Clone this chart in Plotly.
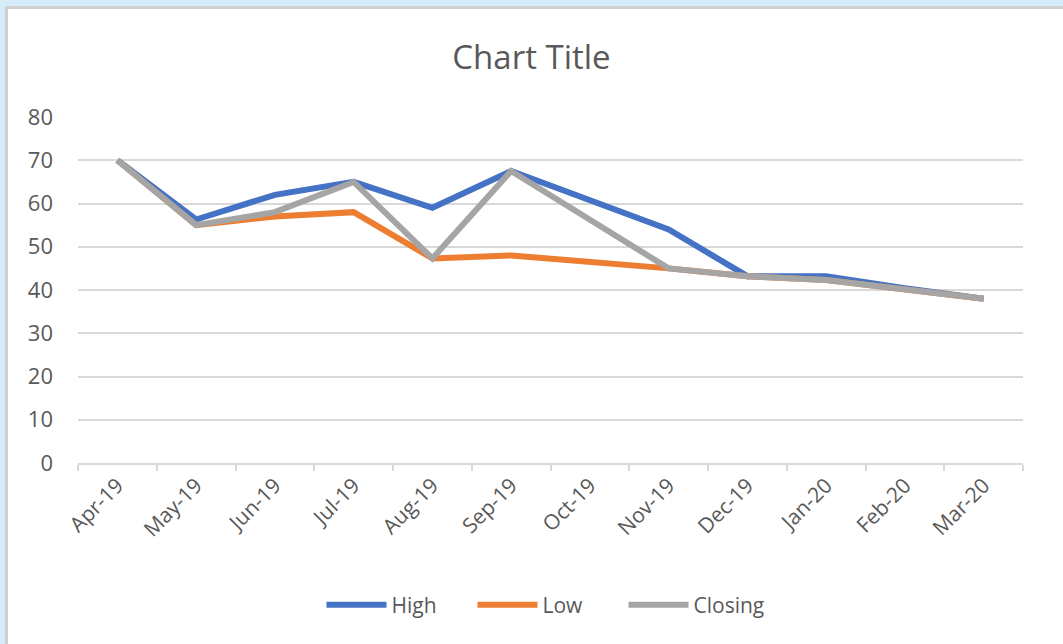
import plotly.graph_objects as go

months = ["Apr-19", "May-19", "Jun-19", "Jul-19", "Aug-19", "Sep-19",
          "Oct-19", "Nov-19", "Dec-19", "Jan-20", "Feb-20", "Mar-20"]
high = [70, 56.3, 62, 65, 59, 67.5, None, 54, 43.2, 43.2, 40.4, 38]
low = [70, 55, 57, 58, 47.3, 48, None, 45, 43.2, 42.3, 40.2, 38]
closing = [70, 55, 58, 65, 47.3, 67.5, None, 45, 43.2, 42.3, 40.2, 38]

W, H = 1063, 644
L, R, T, B = 78, 40, 117, 181
pw, ph = W - L - R, H - T - B

def px_x(p):
    return (p - L) / pw

def px_y(p):
    return (H - B - p) / ph

fig = go.Figure()
for name, vals, col in [("High", high, "#4472C4"), ("Low", low, "#ED7D31"), ("Closing", closing, "#A5A5A5")]:
    fig.add_trace(go.Scatter(x=months, y=vals, name=name, mode="lines",
                             connectgaps=True,
                             line=dict(color=col, width=6)))

font_family = "Open Sans, Noto Sans, sans-serif"

fig.update_layout(
    width=W, height=H,
    margin=dict(l=L, r=R, t=T, b=B),
    paper_bgcolor="#d6ecf8",
    plot_bgcolor="rgba(0,0,0,0)",
    font=dict(family=font_family, color="#595959", size=20),
    title=dict(text="Chart Title", x=0.5, xanchor="center", y=1 - 57 / H, yanchor="middle",
               font=dict(size=33, color="#595959", family=font_family)),
    showlegend=True,
    legend=dict(orientation="h", x=px_x(548), xanchor="center", y=px_y(605), yanchor="middle",
                bgcolor="rgba(0,0,0,0)", entrywidth=76, entrywidthmode="pixels",
                font=dict(size=21, color="#595959"), itemwidth=60, tracegroupgap=0),
    shapes=[
        dict(type="rect", xref="paper", yref="paper", x0=px_x(5), x1=px_x(W + 5),
             y0=px_y(H + 5), y1=px_y(6), fillcolor="#d0d0d0", line=dict(width=0), layer="below"),
        dict(type="rect", xref="paper", yref="paper", x0=px_x(8), x1=px_x(W + 5),
             y0=px_y(H + 5), y1=px_y(9), fillcolor="white", line=dict(width=0), layer="below"),
    ],
)

fig.update_xaxes(
    type="category", categoryorder="array", categoryarray=months,
    range=[-0.5, 11.5],
    showgrid=False, showline=True, linecolor="#d9d9d9", linewidth=2,
    ticks="outside", tickson="boundaries", ticklen=6, tickcolor="#d9d9d9", tickwidth=2,
    tickangle=-45, tickfont=dict(size=21, color="#595959"),
    zeroline=False,
)
fig.update_yaxes(
    range=[0, 80], dtick=10, showgrid=True, gridcolor="#d9d9d9", gridwidth=2,
    zeroline=False, showline=False, ticks="", ticklabelstandoff=24,
    tickfont=dict(size=22, color="#595959"),
)

fig.write_html("out.html", config={"displayModeBar": False},
               post_script="document.body.style.margin='0';document.body.style.overflow='hidden';")
